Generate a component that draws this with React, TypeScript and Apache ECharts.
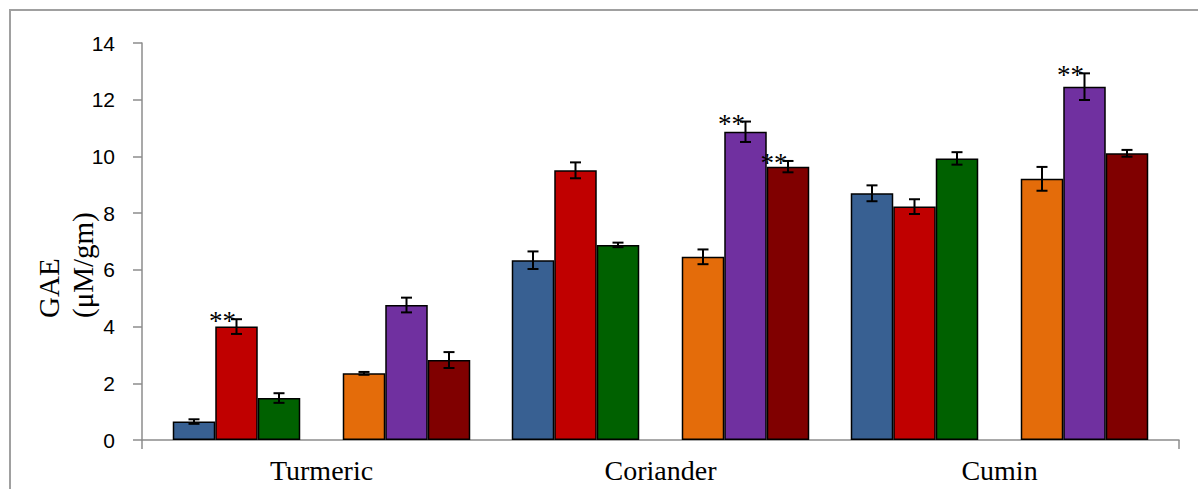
import React, { useEffect, useRef } from "react";
import * as echarts from "echarts";

const categories = ["Turmeric", "Coriander", "Cumin"];
const yTicks = { min: 0, max: 14, interval: 2 };

// slots 0..6 in each category; slot 3 is an empty gap
const seriesColors = ["#386092", "#C00000", "#006100", "transparent", "#E46C0A", "#7030A0", "#800000"];
const s1 = [0.65, 6.34, 8.7];
const s2 = [4.0, 9.51, 8.23];
const s3 = [1.48, 6.88, 9.93];
const s4 = [null, null, null];
const s5 = [2.35, 6.46, 9.21];
const s6 = [4.76, 10.87, 12.46];
const s7 = [2.82, 9.64, 10.11];

const e1 = [0.08, 0.31, 0.28];
const e2 = [0.26, 0.28, 0.26];
const e3 = [0.17, 0.08, 0.22];
const e4 = [0, 0, 0];
const e5 = [0.05, 0.26, 0.42];
const e6 = [0.26, 0.36, 0.47];
const e7 = [0.28, 0.2, 0.12];

const st1 = [0, 0, 0];
const st2 = [1, 0, 0];
const st3 = [0, 0, 0];
const st4 = [0, 0, 0];
const st5 = [0, 0, 0];
const st6 = [0, 1, 1];
const st7 = [0, 1, 0];

const values = [s1, s2, s3, s4, s5, s6, s7];
const errors = [e1, e2, e3, e4, e5, e6, e7];
const stars = [st1, st2, st3, st4, st5, st6, st7];

const BAR_W = 42.5;
const W = 1198;
const H = 489;

export default function App() {
  const ref = useRef<HTMLDivElement>(null);
  useEffect(() => {
    document.body.style.margin = "0";
    const chart = echarts.init(ref.current!, null, { renderer: "svg" });

    const errData: any[] = [];
    values.forEach((arr, s) => {
      arr.forEach((v, c) => {
        if (v == null) return;
        errData.push([c, v, s, errors[s][c], stars[s][c]]);
      });
    });

    const barSeries = values.map((arr, s) => ({
      type: "bar",
      name: "S" + (s + 1),
      xAxisIndex: 1,
      yAxisIndex: 1,
      barWidth: BAR_W,
      barGap: "0%",
      data: arr.map((v) => (v == null ? "-" : v)),
      itemStyle: {
        color: seriesColors[s],
        borderColor: "#000",
        borderWidth: s === 3 ? 0 : 1.5,
      },
    }));

    const axisColor = "#8c8c8c";

    chart.setOption({
      animation: false,
      backgroundColor: "#ffffff",
      grid: [
        { left: 142, right: W - 1179, top: 43, bottom: H - 440 },
        { left: 152, right: W - 1169, top: 43, bottom: H - 440 },
      ],
      xAxis: [
        {
          type: "value",
          gridIndex: 0,
          min: 0,
          max: 1,
          interval: 1,
          axisLine: { show: true, lineStyle: { color: axisColor, width: 1.5 } },
          axisTick: { show: true, length: 9, lineStyle: { color: axisColor, width: 1.5 } },
          axisLabel: { show: false },
          splitLine: { show: false },
        },
        {
          type: "category",
          gridIndex: 1,
          data: categories,
          axisLine: { show: false },
          axisTick: { show: false },
          axisLabel: {
            margin: 16,
            color: "#000",
            fontFamily: "Liberation Serif",
            fontSize: 28,
          },
        },
      ],
      yAxis: [
        {
          type: "value",
          gridIndex: 0,
          min: yTicks.min,
          max: yTicks.max,
          interval: yTicks.interval,
          axisLine: { show: true, lineStyle: { color: axisColor, width: 1.5 } },
          axisTick: { show: true, length: 9, lineStyle: { color: axisColor, width: 1.5 } },
          axisLabel: {
            margin: 27,
            color: "#000",
            fontFamily: "Liberation Sans",
            fontSize: 21,
          },
          splitLine: { show: false },
        },
        {
          type: "value",
          gridIndex: 1,
          min: yTicks.min,
          max: yTicks.max,
          interval: yTicks.interval,
          show: false,
          splitLine: { show: false },
        },
      ],
      graphic: [
        {
          type: "rect",
          shape: { x: 10, y: 10, width: 1400, height: 700 },
          style: { fill: "none", stroke: "#a0a0a0", lineWidth: 2 },
          silent: true,
        },
        {
          type: "text",
          x: 32,
          y: 318,
          rotation: Math.PI / 2,
          style: {
            text: "GAE\n(μM/gm)",
            font: '29px "Liberation Serif"',
            fill: "#000",
            textAlign: "left",
            textVerticalAlign: "top",
            lineHeight: 34,
          },
        },
      ],
      series: [
        ...barSeries,
        {
          type: "custom",
          name: "errors",
          xAxisIndex: 1,
          yAxisIndex: 1,
          z: 5,
          encode: { x: 0, y: 1 },
          data: errData,
          renderItem: (params: any, api: any) => {
            const c = api.value(0);
            const v = api.value(1);
            const s = api.value(2);
            const e = api.value(3);
            const star = api.value(4);
            const base = api.coord([c, v]);
            const cx = base[0] + (s - 3) * BAR_W;
            const top = api.coord([c, v + e])[1];
            const bot = api.coord([c, v - e])[1];
            const ls = { stroke: "#000", lineWidth: 2 };
            const children: any[] = [
              { type: "line", shape: { x1: cx, y1: top, x2: cx, y2: bot }, style: ls },
              { type: "line", shape: { x1: cx - 5.5, y1: top, x2: cx + 5.5, y2: top }, style: ls },
              { type: "line", shape: { x1: cx - 5.5, y1: bot, x2: cx + 5.5, y2: bot }, style: ls },
            ];
            if (star) {
              children.push({
                type: "text",
                x: cx - 14,
                y: top + 2,
                style: {
                  text: "**",
                  font: '27px "Liberation Serif"',
                  fill: "#000",
                  textAlign: "center",
                  textVerticalAlign: "middle",
                },
              });
            }
            return { type: "group", children };
          },
        },
      ],
    });
    return () => chart.dispose();
  }, []);
  return <div ref={ref} style={{ width: W, height: H }} />;
}
